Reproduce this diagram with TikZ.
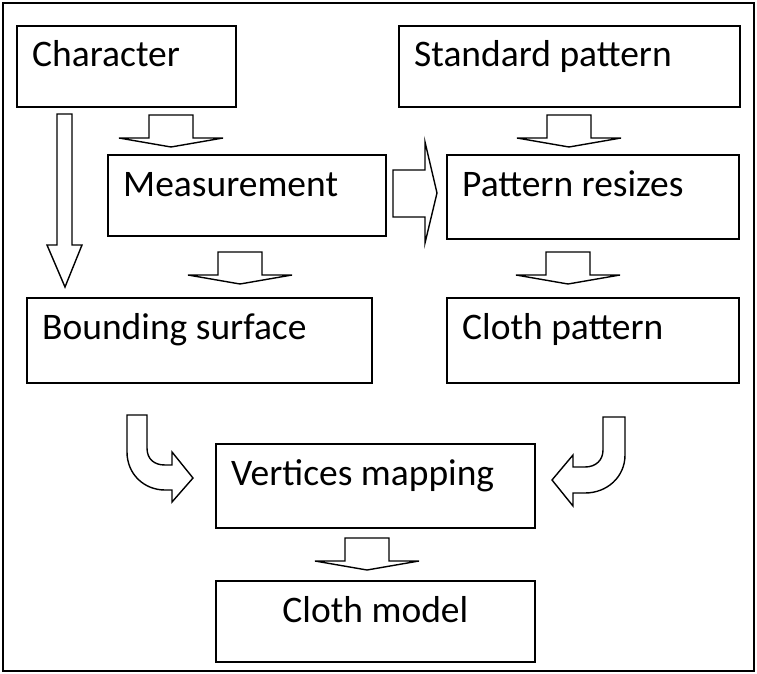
\documentclass[tikz,border=0pt]{standalone}
\usepackage{fontspec}
\setmainfont{Carlito}
\tikzset{
    box/.style={draw, line width=1.8pt, rectangle, anchor=north west, inner sep=0pt},
    lbl/.style={anchor=base west, inner sep=0pt, font=\fontsize{37.5}{44}\selectfont},
    barrow/.style={draw, line width=1.4pt, fill=white, line join=miter},
    dnarrow/.pic={\draw[barrow] (-22,0) -- (22,0) -- (22,23) -- (52,23) -- (0,32) -- (-52,23) -- (-22,23) -- cycle;}
}

\begin{document}
\begin{tikzpicture}[x=1pt, y=-1pt]
    \useasboundingbox (0,0) rectangle (757,674);
    % outer frame
    \draw[line width=1.8pt] (3,3) rectangle (754,671);

    % boxes
    \node[box, minimum width=219, minimum height=81] (char) at (16,25) {};
    \node[box, minimum width=341, minimum height=81] (std) at (398,25) {};
    \node[box, minimum width=278, minimum height=81] (meas) at (107,154) {};
    \node[box, minimum width=292, minimum height=84] (resize) at (446,154) {};
    \node[box, minimum width=345, minimum height=85] (bound) at (26,297) {};
    \node[box, minimum width=292, minimum height=85] (clothpat) at (446,297) {};
    \node[box, minimum width=319, minimum height=84] (vmap) at (215,443) {};
    \node[box, minimum width=319, minimum height=81] (clothmod) at (215,580) {};

    % labels
    \node[lbl] (tchar) at ([shift={(16,42)}]char.north west) {Character};
    \node[lbl] (tstd) at ([shift={(16,42)}]std.north west) {Standard pattern};
    \node[lbl] (tmeas) at ([shift={(16,42)}]meas.north west) {Measurement};
    \node[lbl] (tresize) at ([shift={(16,42)}]resize.north west) {Pattern resizes};
    \node[lbl] (tbound) at ([shift={(16,42)}]bound.north west) {Bounding surface};
    \node[lbl] (tclothpat) at ([shift={(16,42)}]clothpat.north west) {Cloth pattern};
    \node[lbl] (tvmap) at ([shift={(16,42)}]vmap.north west) {Vertices mapping};
    \node[lbl, anchor=base] (tclothmod) at ([shift={(0,42)}]clothmod.north) {Cloth model};

    % small down arrows
    \pic at (171,115) {dnarrow};
    \pic at (569,115) {dnarrow};
    \pic at (240,252) {dnarrow};
    \pic at (568,252) {dnarrow};
    \pic at (367,538) {dnarrow};

    % long down arrow
    \draw[barrow] (57,114) -- (72,114) -- (72,245) -- (82,245) -- (65,287) -- (47,245) -- (57,245) -- cycle;

    % right arrow
    \draw[barrow] (393,170) -- (425,170) -- (425,142) -- (437,193) -- (425,243) -- (425,217) -- (393,217) -- cycle;

    % curved arrows
    \draw[barrow] (127,415) -- (147,415) -- (147,448) .. controls (147,459) and (154,465) .. (165,465)
        -- (172,465) -- (172,452) -- (193,478) -- (172,502) -- (172,490) -- (165,490)
        .. controls (144,490) and (127,474) .. (127,452) -- cycle;
    \draw[barrow] (603,417) -- (625,417) -- (625,455) .. controls (625,477) and (607,493) .. (585,493)
        -- (573,493) -- (573,506) -- (552,480) -- (573,455) -- (573,467) -- (585,467)
        .. controls (596,467) and (603,460) .. (603,450) -- cycle;
\end{tikzpicture}
\end{document}
